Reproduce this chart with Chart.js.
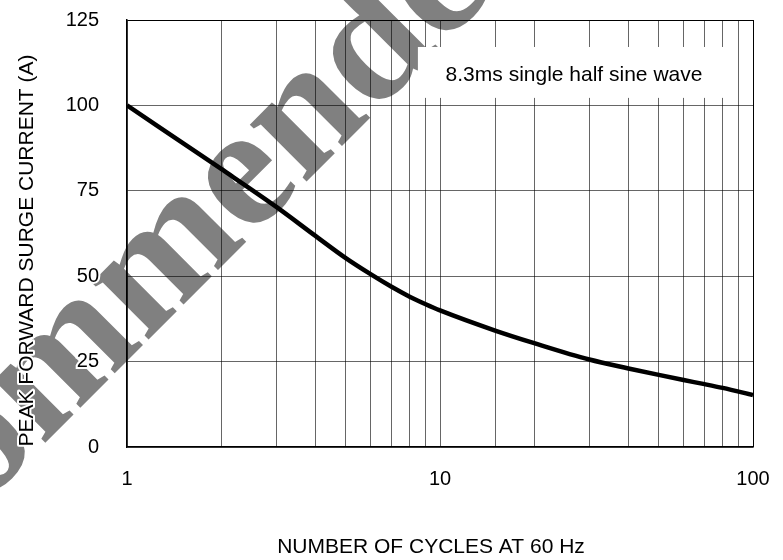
<!DOCTYPE html>
<html>
<head>
<meta charset="utf-8">
<title>Peak forward surge current</title>
<script src="https://cdn.jsdelivr.net/npm/chart.js@4.4.0/dist/chart.umd.min.js"></script>
<style>
	html, body { margin: 0; padding: 0; background: #fff; }
	#wrap { width: 783px; height: 560px; }
</style>
</head>
<body>
<div id="wrap"><canvas id="surgeChart" width="783" height="560"></canvas></div>
<script>
'use strict'

// values
const cycles = [1, 2, 3, 4, 5, 6, 7, 8, 9, 10, 15, 20, 30, 40, 50, 60, 70, 80, 100];
const surgeCurrent = [100, 81.4, 70.3, 61.8, 55.3, 50.6, 46.9, 44, 41.8, 40, 34.1, 30.4, 25.6, 23, 21.1, 19.6, 18.4, 17.3, 15.2];
const yTicks = [0, 25, 50, 75, 100, 125];
const xTickLabels = [1, 10, 100];

const xTitle = 'NUMBER OF CYCLES AT 60 Hz';
const yTitle = 'PEAK FORWARD SURGE CURRENT (A)';
const noteText = '8.3ms single half sine wave';
const noteBox = { xMin: 8.5, xMax: 84.5, yMin: 102.2, yMax: 117.1, x: 26.8, y: 108.7 };
const stampText = 'Recommended';

const sans = '"Liberation Sans", Arial, sans-serif';

let stampPlugin = {
	id: 'stamp',
	beforeDraw: (chart) => {
		let ctx = chart.ctx;
		ctx.save();
		ctx.fillStyle = '#fff';
		ctx.fillRect(0, 0, chart.width, chart.height);
		ctx.translate(-219, 707);
		ctx.rotate(-Math.PI / 4);
		ctx.font = 'bold 175px "Liberation Serif", "Times New Roman", serif';
		ctx.fillStyle = '#808080';
		ctx.textBaseline = 'alphabetic';
		ctx.fillText(stampText, 0, 0);
		ctx.restore();
	}
};

let notePlugin = {
	id: 'note',
	afterDatasetsDraw: (chart) => {
		let ctx = chart.ctx;
		let x = chart.scales.x;
		let y = chart.scales.y;
		let left = x.getPixelForValue(noteBox.xMin);
		let right = x.getPixelForValue(noteBox.xMax);
		let top = y.getPixelForValue(noteBox.yMax);
		let bottom = y.getPixelForValue(noteBox.yMin);
		ctx.save();
		ctx.fillStyle = '#fff';
		ctx.fillRect(left, top, right - left, bottom - top);
		ctx.fillStyle = '#000';
		ctx.font = '21px ' + sans;
		ctx.textAlign = 'center';
		ctx.textBaseline = 'middle';
		ctx.fillText(noteText, x.getPixelForValue(noteBox.x), y.getPixelForValue(noteBox.y));
		ctx.restore();
	}
};

let titlePlugin = {
	id: 'axisTitles',
	afterDraw: (chart) => {
		let ctx = chart.ctx;
		let area = chart.chartArea;
		ctx.save();
		ctx.font = '21px ' + sans;
		ctx.textAlign = 'center';
		ctx.textBaseline = 'middle';
		ctx.lineJoin = 'round';
		ctx.lineWidth = 4;
		ctx.strokeStyle = '#fff';
		ctx.fillStyle = '#000';
		ctx.fillText(xTitle, (area.left + area.right) / 2 - 9, 547);
		ctx.translate(27, (area.top + area.bottom) / 2 + 17);
		ctx.rotate(-Math.PI / 2);
		ctx.strokeText(yTitle, 0, 0);
		ctx.fillText(yTitle, 0, 0);
		ctx.restore();
	}
};

let gridColor = (ctx, edgeValue) => {
	if (ctx.tick && ctx.tick.value === edgeValue) {
		return '#000';
	}
	return 'rgba(0,0,0,0.6)';
};

let noPadding = (scale) => {
	scale.paddingTop = 0;
	scale.paddingBottom = 0;
	scale.paddingLeft = 0;
	scale.paddingRight = 0;
};

new Chart(document.getElementById('surgeChart'), {
	type: 'line',
	data: {
		datasets: [{
			data: cycles.map((c, i) => ({ x: c, y: surgeCurrent[i] })),
			borderColor: '#000',
			borderWidth: 4.5,
			pointRadius: 0,
			fill: false,
			cubicInterpolationMode: 'monotone'
		}]
	},
	options: {
		responsive: false,
		animation: false,
		layout: { padding: { left: 0, top: 20, right: 30, bottom: 0 } },
		plugins: {
			legend: { display: false },
			tooltip: { enabled: false }
		},
		scales: {
			x: {
				type: 'logarithmic',
				min: 1,
				max: 100,
				afterFit: (scale) => {
					scale.height = 113;
					noPadding(scale);
				},
				grid: {
					color: (ctx) => gridColor(ctx, 100),
					lineWidth: 1,
					drawTicks: false
				},
				border: { color: '#000', width: 1.5 },
				ticks: {
					autoSkip: false,
					maxRotation: 0,
					padding: 20,
					color: '#000',
					font: { family: sans, size: 20 },
					callback: (value) => xTickLabels.includes(value) ? String(value) : ''
				}
			},
			y: {
				min: 0,
				max: 125,
				afterFit: (scale) => {
					scale.width = 127;
					noPadding(scale);
				},
				afterBuildTicks: (scale) => { scale.ticks = yTicks.map((v) => ({ value: v })); },
				grid: {
					color: (ctx) => gridColor(ctx, 125),
					lineWidth: 1,
					drawTicks: false
				},
				border: { color: '#000', width: 1.5 },
				ticks: {
					padding: 28,
					color: '#000',
					textStrokeColor: '#fff',
					textStrokeWidth: 4,
					font: { family: sans, size: 20 }
				}
			}
		}
	},
	plugins: [stampPlugin, notePlugin, titlePlugin]
});
</script>
</body>
</html>
